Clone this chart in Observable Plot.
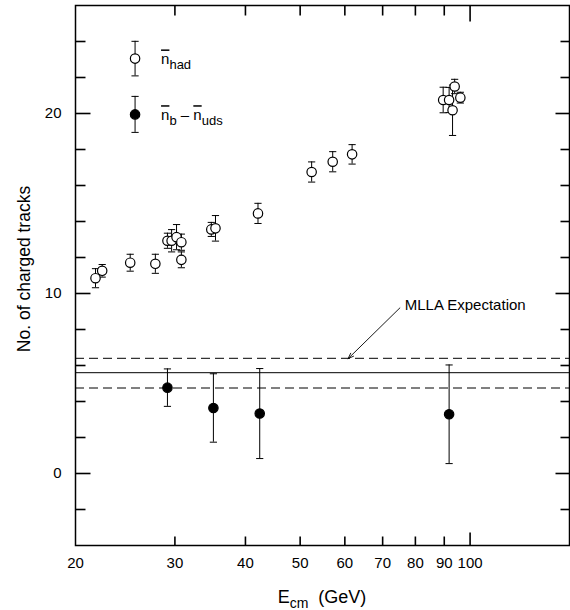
<!DOCTYPE html>
<html><head><meta charset="utf-8">
<script src="https://cdn.jsdelivr.net/npm/d3@7"></script>
<script src="https://cdn.jsdelivr.net/npm/@observablehq/plot@0.6"></script>
<style>
body{margin:0;background:#fff;}
#chart{width:570px;height:610px;}
</style></head><body><div id="chart"></div>
<script>
// n_had measurements
const hadE   = [21.7, 22.3, 25.0, 27.7, 29.1, 29.6, 30.2, 30.8, 30.8, 34.8, 35.4, 42.1, 52.4, 57.1, 61.8, 89.6, 91.8, 93.9, 93.1, 96.1];
const hadN   = [10.85, 11.26, 11.71, 11.65, 12.93, 12.93, 13.13, 12.85, 11.87, 13.56, 13.62, 14.45, 16.75, 17.32, 17.73, 20.75, 20.75, 21.5, 20.18, 20.88];
const hadErr = [0.53, 0.35, 0.47, 0.53, 0.42, 0.62, 0.7, 0.45, 0.44, 0.39, 0.71, 0.56, 0.56, 0.56, 0.54, 0.71, 0.7, 0.4, 1.4, 0.3];
// n_b - n_uds measurements
const bE   = [29.1, 35.1, 42.4, 91.8];
const bN   = [4.77, 3.64, 3.33, 3.29];
const bErr = [1.04, 1.9, 2.5, 2.74];
// MLLA expectation band
const mllaCentral = 5.6;
const mllaBand = [6.4, 4.75];
const mllaLabel = "MLLA Expectation";
const mllaArrow = [{x1: 75.1, y1: 9.2, x2: 60.8, y2: 6.38, lx: 76.6, ly: 9.33}];
// legend entries
const legendE = [25.5, 25.5];
const legendN = [23.05, 19.95];
const legendErr = [0.96, 1.0];
const legendKeys = ["§had", "§buds"];
const legendFilled = [false, true];
// ticks
const xLabels = [20, 30, 40, 50, 60, 70, 80, 90, 100];
const xMinor = [30, 40, 50, 60, 70, 80, 90];
const xMajor = [100];
const yLabels = [0, 10, 20];
const yMinor = [-2, 2, 4, 6, 8, 12, 14, 16, 18, 22, 24];
const xDomain = [20, 150];
const yDomain = [-4, 26];

const had = hadE.map((E, i) => ({E, n: hadN[i], err: hadErr[i], filled: false}));
const bb = bE.map((E, i) => ({E, n: bN[i], err: bErr[i], filled: true}));
const leg = legendE.map((E, i) => ({E, n: legendN[i], err: legendErr[i], key: legendKeys[i], filled: legendFilled[i]}));

const cap = {draw(ctx, size) { const r = Math.sqrt(size / Math.PI); ctx.moveTo(-r, 0); ctx.lineTo(r, 0); }};

function errMarks(data) {
  return [
    Plot.ruleX(data, {x: "E", y1: d => d.n - d.err, y2: d => d.n + d.err, stroke: "black", strokeWidth: 1}),
    Plot.dot(data, {x: "E", y: d => d.n + d.err, symbol: cap, r: 3.6, stroke: "black", strokeWidth: 1}),
    Plot.dot(data, {x: "E", y: d => d.n - d.err, symbol: cap, r: 3.6, stroke: "black", strokeWidth: 1}),
    Plot.dot(data, {x: "E", y: "n", r: 4.7, fill: d => d.filled ? "black" : "white", stroke: "black", strokeWidth: 1.2})
  ];
}

// inward tick segments as objects (lengths in px converted to scale units)
const FH = 540, FW = 494;
const yUnits = px => px * (yDomain[1] - yDomain[0]) / FH;
const xFactor = px => Math.pow(xDomain[1] / xDomain[0], px / FW);
const tickSegs = [
  ...xMinor.map(v => ({x1: v, x2: v, y1: yDomain[0], y2: yDomain[0] + yUnits(9)})),
  ...xMajor.map(v => ({x1: v, x2: v, y1: yDomain[0], y2: yDomain[0] + yUnits(13)})),
  ...xMinor.map(v => ({x1: v, x2: v, y1: yDomain[1], y2: yDomain[1] - yUnits(10)})),
  ...xMajor.map(v => ({x1: v, x2: v, y1: yDomain[1], y2: yDomain[1] - yUnits(16)})),
  ...yMinor.map(v => ({y1: v, y2: v, x1: xDomain[0], x2: xDomain[0] * xFactor(10)})),
  ...yLabels.map(v => ({y1: v, y2: v, x1: xDomain[0], x2: xDomain[0] * xFactor(15)})),
  ...yMinor.map(v => ({y1: v, y2: v, x1: xDomain[1], x2: xDomain[1] / xFactor(9)})),
  ...yLabels.map(v => ({y1: v, y2: v, x1: xDomain[1], x2: xDomain[1] / xFactor(14)}))
];

const plot = Plot.plot({
  width: 570, height: 610,
  marginLeft: 75, marginRight: 1, marginTop: 5, marginBottom: 65,
  style: {fontFamily: "'Liberation Sans', Arial, Helvetica, sans-serif", fontSize: "15px", background: "#fff", color: "#000"},
  x: {type: "log", domain: xDomain, label: null, axis: null},
  y: {domain: yDomain, label: null, axis: null},
  marks: [
    // tick marks (inward)
    Plot.link(tickSegs, {x1: "x1", y1: "y1", x2: "x2", y2: "y2", stroke: "#000", strokeWidth: 1.6}),
    // tick labels
    Plot.text(xLabels, {x: d => d, text: d => String(d), frameAnchor: "bottom", dy: 18, lineAnchor: "middle", fontSize: 15}),
    Plot.text(yLabels, {y: d => d, text: d => String(d), frameAnchor: "left", dx: -14, textAnchor: "end", fontSize: 15}),
    // MLLA expectation
    Plot.ruleY([mllaCentral], {stroke: "black", strokeWidth: 1}),
    Plot.ruleY(mllaBand, {stroke: "black", strokeWidth: 1, strokeDasharray: "9,5"}),
    Plot.arrow(mllaArrow, {x1: "x1", y1: "y1", x2: "x2", y2: "y2", stroke: "black", strokeWidth: 0.9, headLength: 10, headAngle: 40}),
    Plot.text(mllaArrow, {x: "lx", y: "ly", text: () => mllaLabel, textAnchor: "start", fontSize: 15}),
    // data
    ...errMarks(had),
    ...errMarks(bb),
    // legend
    ...errMarks(leg),
    Plot.text(leg, {x: "E", y: "n", text: "key", textAnchor: "start", dx: 26, dy: 1, fontSize: 15}),
    Plot.frame({stroke: "black", strokeWidth: 1.5})
  ]
});

const svg = d3.select(plot);
// legend labels with overlines and subscripts
svg.selectAll("text").each(function() {
  const t = d3.select(this);
  const s = this.textContent;
  if (s === "§had" || s === "§buds") {
    t.text("");
    const bar = (sel) => sel.append("tspan").attr("text-decoration", "overline").text("n");
    bar(t);
    if (s === "§had") {
      t.append("tspan").attr("dy", 5).attr("font-size", 13).text("had");
    } else {
      t.append("tspan").attr("dy", 5).attr("font-size", 13).text("b");
      t.append("tspan").attr("dy", -5).text("\u00a0\u2013\u00a0");
      bar(t);
      t.append("tspan").attr("dy", 5).attr("font-size", 13).text("uds");
    }
  }
});
// axis titles
const xt = svg.append("text").attr("x", 322).attr("y", 603).attr("text-anchor", "middle")
  .attr("font-size", 18).attr("fill", "black");
xt.append("tspan").text("E");
xt.append("tspan").attr("dy", 5).attr("font-size", 14).text("cm");
xt.append("tspan").attr("dy", -5).text("\u00a0\u00a0(GeV)");
svg.append("text").attr("transform", "translate(30,269) rotate(-90)").attr("text-anchor", "middle")
  .attr("font-size", 17.5).attr("fill", "black").text("No. of charged tracks");

document.getElementById("chart").appendChild(plot);
</script>
</body></html>
